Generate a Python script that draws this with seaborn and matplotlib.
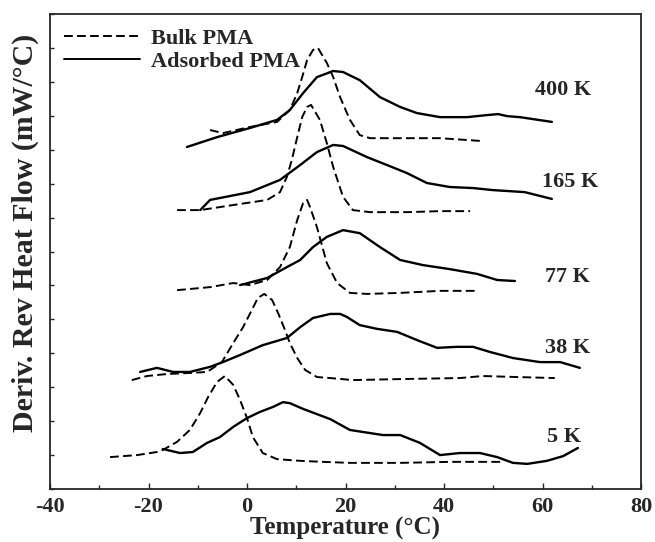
import numpy as np
import pandas as pd
import matplotlib
matplotlib.use("Agg")
import matplotlib.pyplot as plt
import seaborn as sns
from matplotlib.lines import Line2D
from matplotlib.ticker import MultipleLocator, NullFormatter

t_400_bulk = [-7.5, -4.9, 0.6, 6.1, 8.7, 10.2, 11.2, 12.2, 13.4, 14.4, 16.2, 17.5, 18.9,
              20.9, 22.9, 25.0, 31.1, 39.2, 47.3]
y_400_bulk = [10.58, 10.49, 10.67, 10.82, 11.17, 11.67, 12.14, 12.64, 12.94, 13.00, 12.56,
              12.14, 11.55, 10.88, 10.43, 10.34, 10.34, 10.34, 10.26]
t_400_ads = [-12.2, -6.1, 0.6, 6.1, 8.7, 11.4, 14.2, 17.5, 19.5, 22.9, 27.0, 31.1, 34.5,
             39.2, 44.7, 48.7, 51.0, 52.8, 55.4, 61.9]
y_400_ads = [10.08, 10.37, 10.64, 10.88, 11.17, 11.67, 12.14, 12.32, 12.29, 12.05, 11.55,
             11.26, 11.08, 10.96, 10.96, 11.02, 11.05, 10.99, 10.96, 10.82]

t_165_bulk = [-14.2, -9.5, -2.8, 4.1, 6.7, 8.1, 9.1, 10.2, 11.2, 12.2, 13.0, 14.8, 16.2,
              17.5, 19.5, 21.5, 25.0, 32.7, 39.2, 45.3]
y_165_bulk = [8.22, 8.22, 8.37, 8.52, 8.75, 9.20, 9.70, 10.37, 10.96, 11.26, 11.32, 10.88,
              10.20, 9.49, 8.61, 8.22, 8.16, 8.16, 8.19, 8.19]
t_165_ads = [-9.5, -7.5, 0.6, 6.7, 10.8, 14.2, 17.5, 19.5, 24.4, 28.4, 32.5, 36.5, 41.2,
             45.9, 49.9, 56.4, 61.9]
y_165_ads = [8.22, 8.52, 8.75, 9.11, 9.55, 9.93, 10.14, 10.11, 9.78, 9.55, 9.31, 9.02, 8.90,
             8.87, 8.81, 8.75, 8.55]

t_77_bulk = [-14.2, -7.5, -2.8, 0.6, 4.1, 6.7, 8.7, 10.2, 11.4, 12.2, 12.8, 14.2, 16.2,
             18.3, 20.9, 24.4, 31.1, 39.2, 46.3]
y_77_bulk = [5.86, 5.95, 6.07, 6.01, 6.16, 6.54, 7.13, 7.93, 8.43, 8.52, 8.31, 7.72, 6.66,
             6.07, 5.78, 5.75, 5.78, 5.84, 5.84]
t_77_ads = [-1.4, 4.1, 8.1, 10.8, 13.4, 16.2, 19.5, 22.9, 27.0, 31.1, 35.7, 41.2, 46.7,
            50.8, 54.4]
y_77_ads = [6.01, 6.22, 6.54, 6.75, 7.13, 7.43, 7.63, 7.54, 7.13, 6.75, 6.60, 6.48, 6.34,
            6.16, 6.13]

t_38_bulk = [-23.4, -20.3, -16.2, -11.6, -8.1, -5.1, -2.8, -0.8, 1.0, 2.2, 3.5, 5.1, 6.3,
             7.7, 8.7, 10.2, 11.8, 14.2, 16.9, 21.5, 31.1, 43.2, 47.9, 54.8, 62.5]
y_38_bulk = [3.21, 3.33, 3.39, 3.42, 3.45, 3.74, 4.30, 4.77, 5.28, 5.63, 5.75, 5.57, 5.19,
             4.69, 4.30, 3.86, 3.51, 3.30, 3.27, 3.21, 3.24, 3.27, 3.33, 3.30, 3.27]
t_38_ads = [-21.7, -18.3, -15.0, -11.6, -7.5, -4.9, -1.4, 3.2, 8.1, 10.8, 13.4, 16.9, 18.9,
            20.3, 22.9, 26.4, 30.5, 34.5, 38.6, 42.6, 45.9, 49.3, 54.0, 59.5, 63.6, 67.6]
y_38_ads = [3.45, 3.57, 3.45, 3.45, 3.60, 3.74, 3.95, 4.24, 4.45, 4.77, 5.04, 5.16, 5.16,
            5.07, 4.83, 4.72, 4.63, 4.39, 4.16, 4.19, 4.19, 4.04, 3.86, 3.74, 3.74, 3.57]

t_5_bulk = [-27.8, -22.3, -18.3, -17.1, -14.2, -11.6, -9.5, -7.9, -6.1, -4.5, -2.8, -1.4,
            0.0, 1.2, 3.2, 6.1, 10.8, 15.4, 20.9, 31.1, 41.2, 51.8]
y_5_bulk = [0.94, 1.00, 1.09, 1.15, 1.39, 1.74, 2.24, 2.71, 3.15, 3.33, 3.07, 2.62, 2.09,
            1.53, 1.06, 0.88, 0.83, 0.80, 0.77, 0.77, 0.80, 0.80]
t_5_ads = [-17.1, -13.6, -11.0, -8.1, -5.5, -2.8, 0.0, 2.6, 5.3, 7.3, 8.7, 11.4, 16.9, 20.9,
           27.6, 31.1, 35.1, 39.2, 43.2, 47.3, 50.8, 54.0, 56.9, 60.9, 64.2, 67.2]
y_5_ads = [1.18, 1.06, 1.09, 1.36, 1.53, 1.83, 2.09, 2.27, 2.42, 2.56, 2.53, 2.36, 2.06,
           1.74, 1.59, 1.59, 1.36, 1.00, 1.06, 1.06, 0.94, 0.77, 0.74, 0.83, 0.97, 1.21]

samples = ["400 K", "165 K", "77 K", "38 K", "5 K"]
label_t = [64.2, 65.6, 65.0, 65.0, 64.4]
label_y = [11.76, 9.05, 6.25, 4.16, 1.53]

curves = {
    "400 K": ((t_400_bulk, y_400_bulk), (t_400_ads, y_400_ads)),
    "165 K": ((t_165_bulk, y_165_bulk), (t_165_ads, y_165_ads)),
    "77 K": ((t_77_bulk, y_77_bulk), (t_77_ads, y_77_ads)),
    "38 K": ((t_38_bulk, y_38_bulk), (t_38_ads, y_38_ads)),
    "5 K": ((t_5_bulk, y_5_bulk), (t_5_ads, y_5_ads)),
}

sns.set_style("ticks")
plt.rcParams["font.family"] = ["Liberation Serif", "DejaVu Serif"]
plt.rcParams["font.weight"] = "bold"
plt.rcParams["axes.unicode_minus"] = False

fig = plt.figure(figsize=(6.55, 5.42), dpi=100)
ax = fig.add_axes([50 / 655, 1 - 489 / 542, 591 / 655, 475 / 542])

dash = (0, (4.5, 2.2))
for s in samples:
    (tb, yb), (ta, ya) = curves[s]
    sns.lineplot(x=tb, y=yb, ax=ax, color="black", lw=1.4, linestyle=dash,
                 sort=False, estimator=None)
    sns.lineplot(x=ta, y=ya, ax=ax, color="black", lw=1.7, sort=False, estimator=None)

for s, tx, ty in zip(samples, label_t, label_y):
    ax.text(tx, ty, s, ha="center", va="center", fontsize=16, fontweight="bold")

ax.set_xlim(-40, 80)
ax.set_ylim(0, 14)
ax.xaxis.set_major_locator(MultipleLocator(20))
ax.xaxis.set_minor_locator(MultipleLocator(10))
ax.yaxis.set_major_locator(MultipleLocator(1))
ax.yaxis.set_major_formatter(NullFormatter())
ax.tick_params(axis="x", which="major", direction="in", length=4, width=1,
               labelsize=16, pad=6)
ax.tick_params(axis="x", which="minor", direction="in", length=3, width=1)
ax.tick_params(axis="y", which="major", direction="in", length=3, width=1)
for lab in ax.get_xticklabels():
    lab.set_fontweight("bold")
for sp in ax.spines.values():
    sp.set_linewidth(1.3)
    sp.set_visible(True)

ax.set_xlabel("Temperature (°C)", fontsize=18, fontweight="bold", labelpad=0)
ax.set_ylabel("Deriv. Rev Heat Flow (mW/°C)", fontsize=21.5, fontweight="bold")
ax.yaxis.set_label_coords(-0.018, 0.54)

handles = [Line2D([], [], color="black", lw=1.4, linestyle=dash),
           Line2D([], [], color="black", lw=1.4)]
ax.legend(handles, ["Bulk PMA", "Adsorbed PMA"], loc="upper left", frameon=False,
          bbox_to_anchor=(0.0, 1.0), borderaxespad=0.25, handlelength=3.4,
          handletextpad=0.5, labelspacing=0.12, prop={"size": 16, "weight": "bold"})

fig.savefig("out.png", dpi=100, facecolor="white")
